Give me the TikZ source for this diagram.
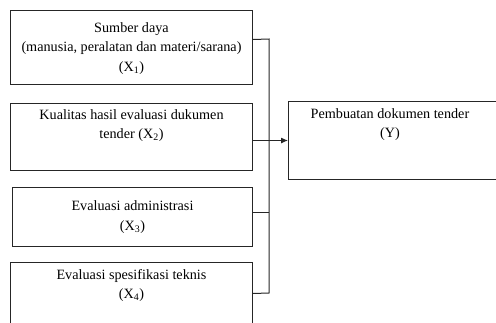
\documentclass[tikz,border=0pt]{standalone}
\usepackage{fontspec}
\setmainfont{Liberation Serif}
\usetikzlibrary{arrows.meta,positioning}
\tikzset{
  frame/.style={draw=black!85, line width=1pt, inner sep=0pt, anchor=north west},
  caption/.style={align=center, inner sep=0pt, font=\fontsize{14.2}{19.5}\selectfont},
  link/.style={draw=black!85, line width=1pt}
}
\begin{document}
\begin{tikzpicture}[x=1pt,y=-1pt]
\useasboundingbox (0,0) rectangle (496,322);
\clip (0,0) rectangle (496,322);
\node[frame, minimum width=242pt, minimum height=74pt] (b1) at (10,10) {};
\node[frame, minimum width=242pt, minimum height=67pt] (b2) at (10,103) {};
\node[frame, minimum width=240pt, minimum height=59pt] (b3) at (12,187) {};
\node[frame, minimum width=242pt, minimum height=68pt] (b4) at (10,262) {};
\node[frame, minimum width=212pt, minimum height=78pt] (y) at (288,101) {};
\node[caption] (t1) at ([yshift=-1pt]b1.center) {Sumber daya\\(manusia, peralatan dan materi/sarana)\\(X\textsubscript{1})};
\node[caption, anchor=north] (t2) at ([yshift=-6pt]b2.north) {Kualitas hasil evaluasi dukumen\\tender (X\textsubscript{2})};
\node[caption] (t3) at (b3.center) {Evaluasi administrasi\\(X\textsubscript{3})};
\node[caption, anchor=north] (t4) at ([yshift=-7pt]b4.north) {Evaluasi spesifikasi teknis\\(X\textsubscript{4})};
\node[caption, anchor=north] (ty) at (390,108) {Pembuatan dokumen tender\\(Y)};
% bus line
\coordinate (bustop) at (269,39);
\coordinate (busbot) at (269,293);
\draw[link] ([yshift=8pt]b1.east) -- (bustop) -- (busbot) -- ([yshift=3pt]b4.east);
\draw[link] ([yshift=4.5pt]b3.east) -- ([yshift=4.5pt]b3.east -| bustop);
\draw[link, -{Latex[length=7pt,width=6pt]}] (b2.east |- y.west) -- (y.west);
\end{tikzpicture}
\end{document}
